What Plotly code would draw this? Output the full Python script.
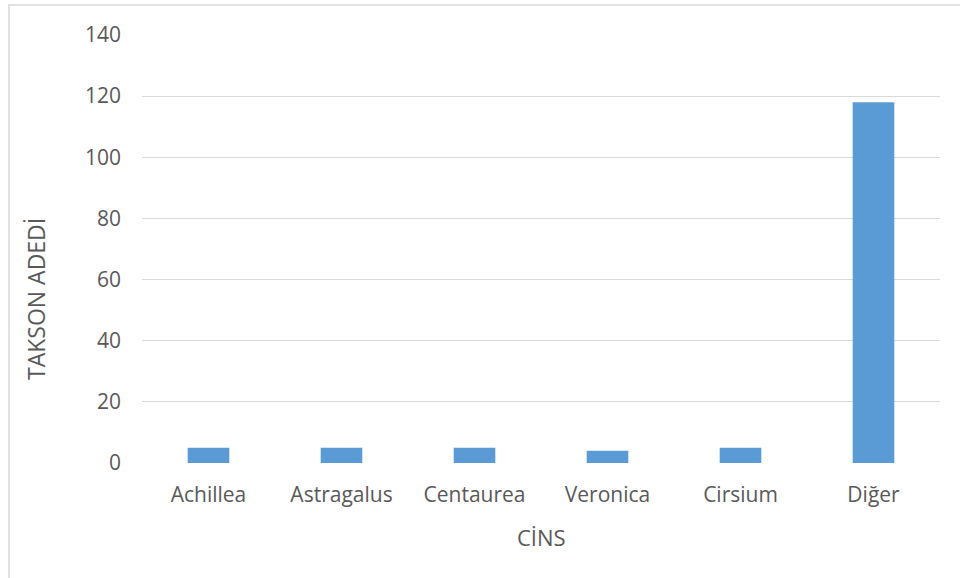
import plotly.graph_objects as go

categories = ["Achillea", "Astragalus", "Centaurea", "Veronica", "Cirsium", "Diğer"]
values = [5, 5, 5, 4, 5, 118]
y_ticks = [0, 20, 40, 60, 80, 100, 120, 140]
x_title = "CİNS"
y_title = "TAKSON ADEDİ"

TEXT = "#595959"
GRID = "#D9D9D9"
FONT = "Open Sans"

fig = go.Figure(
    go.Bar(x=categories, y=values, marker=dict(color="#5B9BD5", line=dict(width=0)))
)

W, H = 960, 578
L, R, T, B = 142, 20, 35, 115
pw, ph = W - L - R, H - T - B


def px_x(px):
    return (px - L) / pw


def px_y(py):
    return (H - B - py) / ph


fig.update_layout(
    width=W, height=H,
    margin=dict(l=L, r=R, t=T, b=B, autoexpand=False),
    paper_bgcolor="white", plot_bgcolor="white",
    bargap=0.687,
    showlegend=False,
    font=dict(family=FONT, color=TEXT, size=21),
    shapes=[dict(
        type="rect", xref="paper", yref="paper",
        x0=px_x(9), x1=1.2, y0=-0.5, y1=px_y(5),
        line=dict(color=GRID, width=1.5), fillcolor="rgba(0,0,0,0)", layer="below",
    )],
    annotations=[
        dict(text=x_title, xref="paper", yref="paper", x=0.5, y=px_y(537),
             xanchor="center", yanchor="middle", showarrow=False,
             font=dict(family=FONT, size=22, color=TEXT)),
        dict(text=y_title, xref="paper", yref="paper", x=px_x(36), y=px_y(299),
             xanchor="center", yanchor="middle", showarrow=False, textangle=-90,
             font=dict(family=FONT, size=23, color=TEXT)),
    ],
)

fig.update_xaxes(
    showline=False, showgrid=False, zeroline=False, ticks="",
    tickfont=dict(family=FONT, size=21, color=TEXT),
    ticklabelstandoff=17,
    automargin=False,
)
fig.update_yaxes(
    range=[0, 140], tickvals=y_ticks, showline=False, zeroline=False,
    showgrid=True, gridcolor=GRID, gridwidth=1.3, ticks="",
    tickfont=dict(family=FONT, size=21, color=TEXT),
    ticklabelstandoff=20,
    automargin=False,
)

fig.write_html("out.html")
